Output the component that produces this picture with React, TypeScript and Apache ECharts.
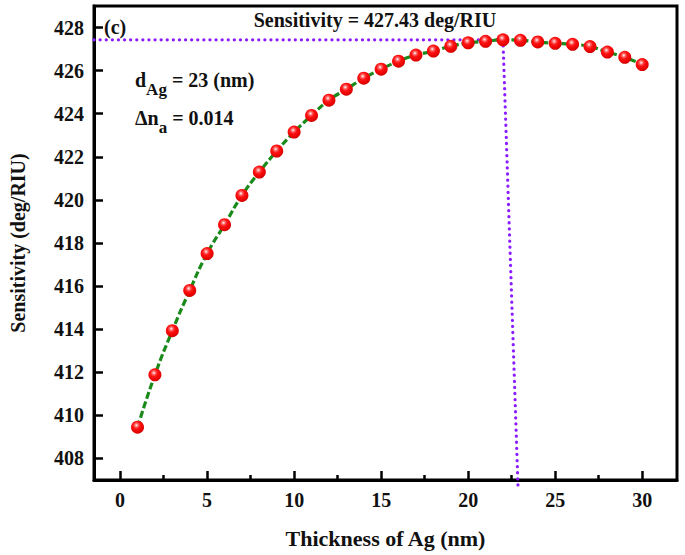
import { useEffect, useRef } from 'react';
import * as echarts from 'echarts';

const thickness = [1, 2, 3, 4, 5, 6, 7, 8, 9, 10, 11, 12, 13, 14, 15, 16, 17, 18, 19, 20, 21, 22, 23, 24, 25, 26, 27, 28, 29, 30];
const sensitivity = [
  409.45, 411.88, 413.93, 415.8, 417.51, 418.85, 420.21, 421.29, 422.27, 423.15,
  423.92, 424.63, 425.14, 425.65, 426.07, 426.44, 426.72, 426.91, 427.13, 427.29,
  427.36, 427.43, 427.41, 427.33, 427.27, 427.22, 427.12, 426.86, 426.62, 426.28,
];
const xMajorTicks = [0, 5, 10, 15, 20, 25, 30];
const xMinorTicks = [2.5, 7.5, 12.5, 17.5, 22.5, 27.5];
const yTicks = [408, 410, 412, 414, 416, 418, 420, 422, 424, 426, 428];
const peakThickness = 22;
const peakSensitivity = 427.43;
const guideEndThickness = 22.87;
const guideEndSensitivity = 406.55;
const xRange = [-1.5, 32];
const yRange = [407, 429];

const FONT = '"Liberation Serif", "Times New Roman", serif';

export default function App() {
  const ref = useRef<HTMLDivElement>(null);

  useEffect(() => {
    if (!ref.current) return;
    const chart = echarts.init(ref.current, null, { renderer: 'svg' });

    const ballColor = new echarts.graphic.RadialGradient(0.42, 0.35, 0.7, [
      { offset: 0, color: '#ffffff' },
      { offset: 0.18, color: '#ff7070' },
      { offset: 0.4, color: '#ff1212' },
      { offset: 0.85, color: '#e00000' },
      { offset: 1, color: '#b80000' },
    ]);

    const points = thickness.map((t, i) => [t, sensitivity[i]]);
    const axisLabelStyle = { fontFamily: FONT, fontWeight: 'bold', fontSize: 20, color: '#111' };

    const option: any = {
      animation: false,
      backgroundColor: '#ffffff',
      grid: {
        left: 90,
        right: 8,
        top: 6,
        bottom: 75,
        show: true,
        borderColor: '#000',
        borderWidth: 3,
        backgroundColor: 'transparent',
      },
      xAxis: [
        {
          type: 'value',
          min: xRange[0],
          max: xRange[1],
          name: 'Thickness of Ag (nm)',
          nameLocation: 'middle',
          nameGap: 47,
          nameTextStyle: { fontFamily: FONT, fontWeight: 'bold', fontSize: 22, color: '#111' },
          axisLine: { show: true, onZero: false, lineStyle: { color: '#000', width: 3 } },
          axisTick: { show: true, inside: true, length: 9, customValues: xMajorTicks, lineStyle: { color: '#000', width: 2.5 } },
          axisLabel: { ...axisLabelStyle, margin: 10, customValues: xMajorTicks },
          splitLine: { show: false },
        },
        {
          type: 'value',
          min: xRange[0],
          max: xRange[1],
          position: 'bottom',
          axisLine: { show: false, onZero: false },
          axisTick: { show: true, inside: true, length: 5, customValues: xMinorTicks, lineStyle: { color: '#000', width: 2.5 } },
          axisLabel: { show: false },
          splitLine: { show: false },
        },
      ],
      yAxis: {
        type: 'value',
        min: yRange[0],
        max: yRange[1],
        name: 'Sensitivity (deg/RIU)',
        nameLocation: 'middle',
        nameGap: 66,
        nameTextStyle: { fontFamily: FONT, fontWeight: 'bold', fontSize: 20, color: '#111' },
        axisLine: { show: true, onZero: false, lineStyle: { color: '#000', width: 3 } },
        axisTick: { show: true, inside: true, length: 9, customValues: yTicks, lineStyle: { color: '#000', width: 2.5 } },
        axisLabel: { ...axisLabelStyle, margin: 10, customValues: yTicks },
        splitLine: { show: false },
      },
      series: [
        {
          type: 'line',
          z: 1,
          data: [[xRange[0], peakSensitivity], [peakThickness, peakSensitivity]],
          showSymbol: false,
          symbol: 'none',
          clip: false,
          lineStyle: { color: '#8a1cff', width: 3.2, type: [0.1, 6], cap: 'round' },
          silent: true,
        },
        {
          type: 'line',
          z: 1,
          data: [[peakThickness, peakSensitivity], [guideEndThickness, guideEndSensitivity]],
          showSymbol: false,
          symbol: 'none',
          clip: false,
          lineStyle: { color: '#8a1cff', width: 3.2, type: [0.1, 6], cap: 'round' },
          silent: true,
        },
        {
          type: 'line',
          z: 2,
          data: points,
          smooth: true,
          showSymbol: false,
          symbol: 'none',
          lineStyle: { color: '#1a8a1a', width: 3.2, type: [7, 3] },
        },
        {
          type: 'scatter',
          z: 3,
          data: points,
          symbol: 'circle',
          symbolSize: 13,
          itemStyle: { color: ballColor, opacity: 1 },
        },
      ],
      graphic: [
        {
          type: 'text',
          x: 375,
          y: 20,
          style: {
            text: 'Sensitivity = 427.43 deg/RIU',
            fontFamily: FONT,
            fontWeight: 'bold',
            fontSize: 20,
            fill: '#111',
            align: 'center',
            textAlign: 'center',
            verticalAlign: 'middle',
            textVerticalAlign: 'middle',
          },
        },
        {
          type: 'text',
          x: 104,
          y: 27,
          style: {
            text: '(c)',
            fontFamily: FONT,
            fontWeight: 'bold',
            fontSize: 20,
            fill: '#111',
            align: 'left',
            textAlign: 'left',
            verticalAlign: 'middle',
            textVerticalAlign: 'middle',
          },
        },
        {
          type: 'text',
          x: 135,
          y: 70,
          style: {
            text: '{m|d}{s|Ag}{m| = 23 (nm)}',
            fill: '#111',
            align: 'left',
            textAlign: 'left',
            verticalAlign: 'top',
            textVerticalAlign: 'top',
            rich: {
              m: { fontFamily: FONT, fontWeight: 'bold', fontSize: 20, fill: '#111', color: '#111', verticalAlign: 'top' },
              s: { fontFamily: FONT, fontWeight: 'bold', fontSize: 17, fill: '#111', color: '#111', verticalAlign: 'top', padding: [11, 0, 0, 0] },
            },
          },
        },
        {
          type: 'text',
          x: 135,
          y: 108,
          style: {
            text: '{m|Δn}{s|a}{m| = 0.014}',
            fill: '#111',
            align: 'left',
            textAlign: 'left',
            verticalAlign: 'top',
            textVerticalAlign: 'top',
            rich: {
              m: { fontFamily: FONT, fontWeight: 'bold', fontSize: 20, fill: '#111', color: '#111', verticalAlign: 'top' },
              s: { fontFamily: FONT, fontWeight: 'bold', fontSize: 17, fill: '#111', color: '#111', verticalAlign: 'top', padding: [11, 0, 0, 0] },
            },
          },
        },
      ],
    };

    chart.setOption(option);
    return () => chart.dispose();
  }, []);

  return (
    <div
      ref={ref}
      style={{ position: 'fixed', left: 0, top: 0, width: 685, height: 555, background: '#fff' }}
    />
  );
}
